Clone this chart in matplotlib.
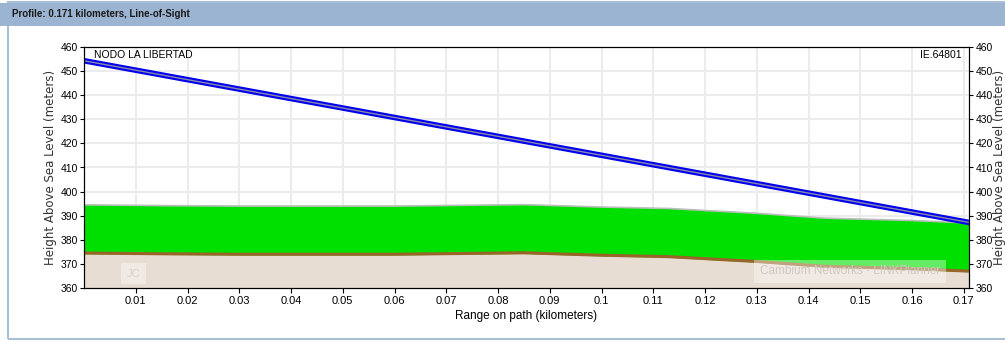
import matplotlib.pyplot as plt
from matplotlib.patches import Rectangle

# Path profile data (km, meters)
range_km = [0.0, 0.015, 0.03, 0.045, 0.06, 0.085, 0.1, 0.113, 0.13, 0.143, 0.16, 0.171]
terrain_m = [374.5, 374.2, 374.0, 374.0, 374.0, 374.6, 373.6, 373.0, 371.0, 369.0, 368.0, 367.0]
clutter_m = [394.5, 394.2, 394.0, 394.0, 394.0, 394.6, 393.6, 393.0, 391.0, 389.0, 388.0, 387.0]

los_range = [0.0, 0.171]
los_height = [454.3, 387.2]

x_ticks = [0.01, 0.02, 0.03, 0.04, 0.05, 0.06, 0.07, 0.08, 0.09, 0.1,
           0.11, 0.12, 0.13, 0.14, 0.15, 0.16, 0.17]
x_tick_labels = ['0.01', '0.02', '0.03', '0.04', '0.05', '0.06', '0.07', '0.08', '0.09', '0.1',
                 '0.11', '0.12', '0.13', '0.14', '0.15', '0.16', '0.17']
y_ticks = [360, 370, 380, 390, 400, 410, 420, 430, 440, 450, 460]

site_left = 'NODO LA LIBERTAD'
site_right = 'IE.64801'
panel_title = 'Profile: 0.171 kilometers, Line-of-Sight'

narrow = ['Liberation Sans', 'DejaVu Sans']

fig = plt.figure(figsize=(10.05, 3.4), dpi=100)

# panel frame (left and bottom visible) and title band
fig.patches.append(Rectangle((8 / 1005, 0.003), 1.0, 0.99, transform=fig.transFigure,
                             facecolor='none', edgecolor='#a9bfd8', linewidth=1.5))
fig.patches.append(Rectangle((0, 1 - 26 / 340), 1, 23 / 340, transform=fig.transFigure,
                             facecolor='#9bb4d2', edgecolor='none'))
fig.text(12 / 1005, 1 - 14 / 340, panel_title, fontsize=7, fontweight='bold',
         family=narrow, va='center', ha='left', color='#1a1a1a')

ax = fig.add_axes([84 / 1005, 52 / 340, 885 / 1005, 241 / 340])

# ground, clutter, line of sight
ax.fill_between(range_km, 360, terrain_m, color='#e8ddd3', zorder=1)
ax.fill_between(range_km, terrain_m, clutter_m, color='#00e000', zorder=2)
ax.plot(range_km, clutter_m, color='#bdbdbd', linewidth=1.2, zorder=3)
ax.plot(range_km, terrain_m, color='#9a6428', linewidth=2.2, zorder=4)
ax.plot(los_range, los_height, color='#0000ee', linewidth=4, zorder=5)
ax.plot(los_range, los_height, color='#8a8aa8', linewidth=1, zorder=6)

ax.set_xlim(0, 0.171)
ax.set_ylim(360, 460)
ax.set_xticks(x_ticks)
ax.set_xticklabels(x_tick_labels)
ax.set_yticks(y_ticks)
ax.grid(True, color='#ececec', linewidth=1.5, zorder=0)
ax.set_axisbelow(True)
ax.tick_params(labelsize=8, pad=2, length=3.5)
ax.tick_params(axis='y', labelsize=7.5, pad=1.5, length=3)
for lbl in ax.get_xticklabels() + ax.get_yticklabels():
    lbl.set_family(narrow)
ax.set_xlabel('Range on path (kilometers)', fontsize=8.5, family=narrow, labelpad=3)
ax.set_ylabel('Height Above Sea Level (meters)', fontsize=8.5, color='#333333')
ax.yaxis.set_label_coords(-0.0305, 0.5)

ax2 = ax.twinx()
ax2.set_ylim(360, 460)
ax2.set_yticks(y_ticks)
ax2.tick_params(labelsize=7.5, pad=1.5, length=3)
for lbl in ax2.get_yticklabels():
    lbl.set_family(narrow)
ax2.set_ylabel('Height Above Sea Level (meters)', fontsize=8.5, color='#333333', rotation=90)
ax2.yaxis.set_label_coords(1.0275, 0.5)

# site names
ax.text(0.002, 458.8, site_left, fontsize=7.5, family=narrow, va='top', ha='left')
ax.text(0.1695, 458.8, site_right, fontsize=7.5, family=narrow, va='top', ha='right')

# watermarks
ax.text(0.0095, 366, 'JC', fontsize=8, family=narrow, color='#d8d0c8', ha='center', va='center',
        bbox=dict(facecolor='white', alpha=0.4, edgecolor='none', pad=4), zorder=7)
ax.text(0.148, 367, 'Cambium Networks - LINKPlanner', fontsize=8.5, family=narrow,
        color='#cfc8c0', ha='center', va='center',
        bbox=dict(facecolor='white', alpha=0.4, edgecolor='none', pad=4), zorder=7)

fig.savefig('out.png', dpi=100)
